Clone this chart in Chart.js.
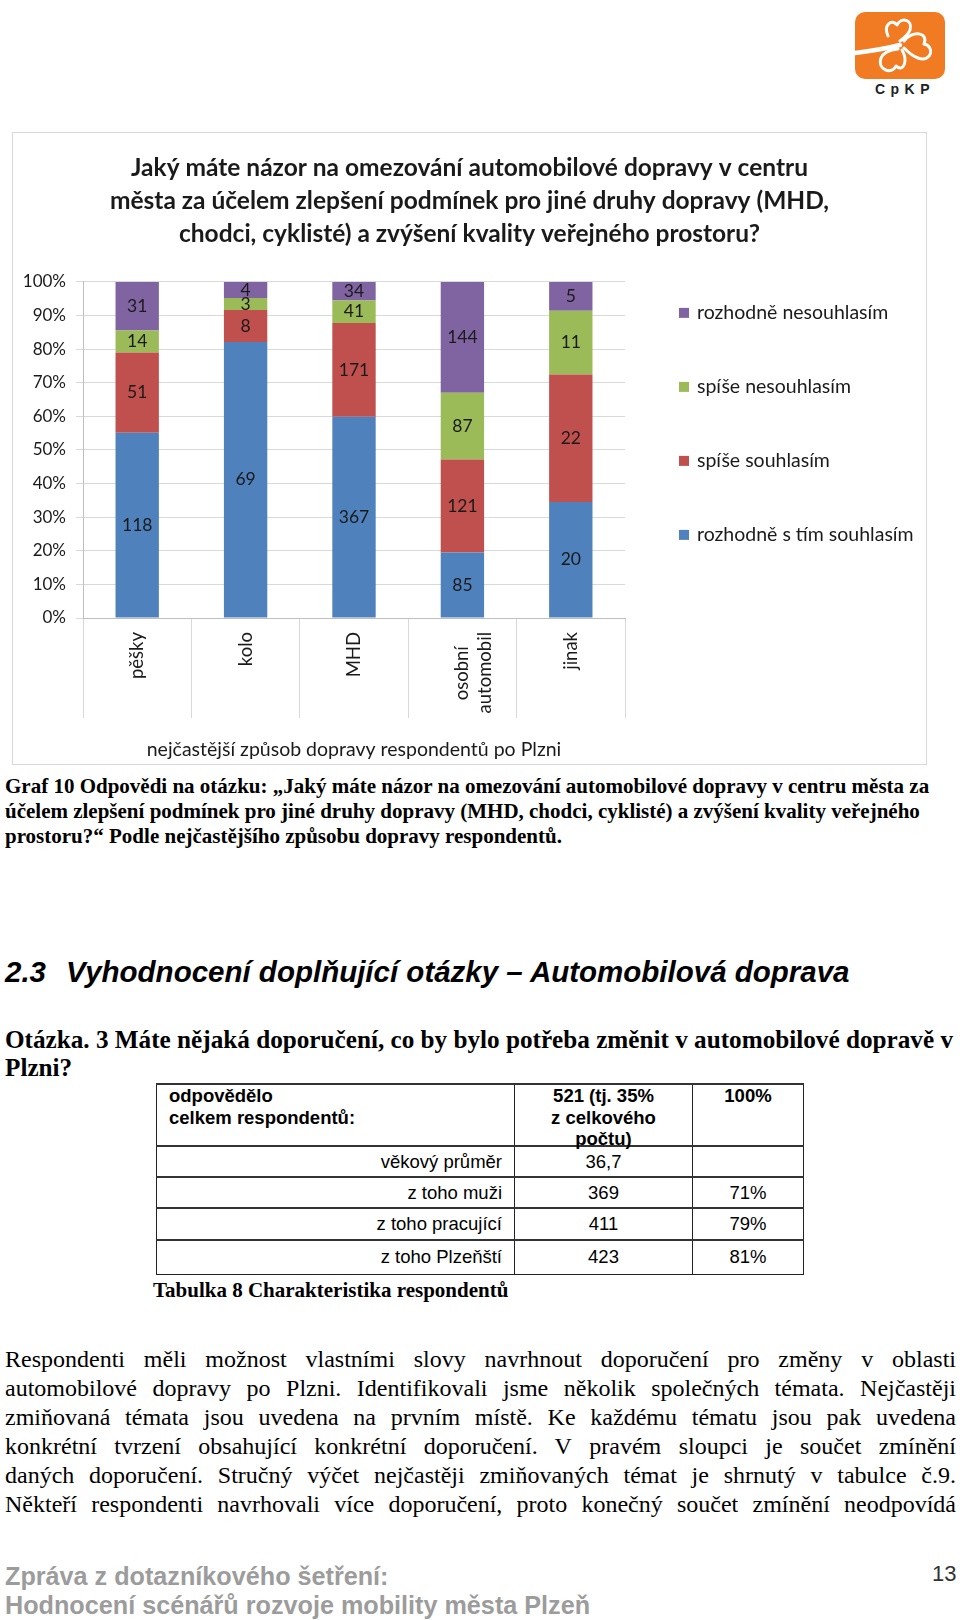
<!DOCTYPE html>
<html lang="cs">
<head>
<meta charset="utf-8">
<title>Graf 10</title>
<script src="https://cdn.jsdelivr.net/npm/chart.js@4/dist/chart.umd.min.js"></script>
<style>
html, body { margin: 0; padding: 0; background: #fff; }
body { width: 960px; height: 1620px; position: relative; overflow: hidden; }
.abs { position: absolute; white-space: nowrap; }
.serif { font-family: "Liberation Serif", "Times New Roman", serif; color: #000; }
.sans { font-family: "Liberation Sans", Arial, sans-serif; color: #000; }
#chartBox { position: absolute; left: 12px; top: 132px; width: 915px; height: 633px; border: 1px solid #d9d9d9; box-sizing: border-box; }
#caption { left: 5px; top: 774px; font-size: 21px; font-weight: bold; line-height: 25px; }
#heading { left: 5px; top: 954px; font-size: 29.5px; font-weight: bold; font-style: italic; line-height: 36px; }
#heading span.t { position: absolute; left: 61px; }
#question { left: 5px; top: 1026px; font-size: 25.2px; font-weight: bold; line-height: 28px; }
#tbl { position: absolute; left: 156px; top: 1083px; border-collapse: collapse; table-layout: fixed; width: 647px; font-size: 18.5px; }
#tbl td { border: 1px solid #222; border-top: 2px solid #333; padding: 0 12px; line-height: 22px; }
#tbl tr.hdr td { vertical-align: top; font-weight: bold; }
#tbl tr.hdr td div { height: 60px; line-height: 21.7px; overflow: visible; }
#tbl td.l { text-align: left; }
#tbl td.r { text-align: right; }
#tbl td.c { text-align: center; }
#tblCap { left: 153px; top: 1279px; font-size: 21px; font-weight: bold; line-height: 22px; }
#para { left: 5px; top: 1345px; width: 951px; font-size: 24px; line-height: 29px; }
#para div { text-align: justify; text-align-last: justify; white-space: nowrap; }
#footer { left: 5px; top: 1562px; font-size: 25.2px; font-weight: bold; line-height: 29px; color: #9c9c9c; }
#pageNo { left: 932px; top: 1561px; font-size: 22px; line-height: 26px; color: #333; }
</style>
</head>
<body>

<svg class="abs" style="left:846px;top:8px" width="110" height="92" viewBox="0 0 110 92">
  <rect x="9" y="4" width="90" height="67" rx="10" fill="#F07B22"/>
  <g fill="none" stroke="#fff" stroke-linecap="round" stroke-linejoin="round">
    <path d="M9 45 C 25 43, 42 40, 54 37" stroke-width="4.5"/>
    <g stroke-width="3">
      <path d="M42 28 C 37 17, 46 10, 51 17 C 55 9, 67 11, 64 22 C 62 27, 58 30, 54 33"/>
      <path d="M58 33 C 66 22, 83 24, 78 36 C 89 38, 86 55, 72 50 C 66 48, 62 44, 58 40"/>
      <path d="M56 42 C 62 52, 58 65, 50 58 C 46 67, 31 62, 35 50 C 37 45, 44 42, 52 41"/>
    </g>
  </g>
  <text x="59" y="86" text-anchor="middle" font-family="Liberation Sans, Arial" font-weight="bold" font-size="14" letter-spacing="5.5" fill="#222">CpKP</text>
</svg>

<div id="chartBox"><canvas id="opinionChart"></canvas></div>

<div id="caption" class="abs serif">
  <div>Graf 10 Odpovědi na otázku: „Jaký máte názor na omezování automobilové dopravy v centru města za</div>
  <div>účelem zlepšení podmínek pro jiné druhy dopravy (MHD, chodci, cyklisté) a zvýšení kvality veřejného</div>
  <div>prostoru?“ Podle nejčastějšího způsobu dopravy respondentů.</div>
</div>

<div id="heading" class="abs sans"><span>2.3</span><span class="t">Vyhodnocení doplňující otázky – Automobilová doprava</span></div>

<div id="question" class="abs serif">
  <div>Otázka. 3 Máte nějaká doporučení, co by bylo potřeba změnit v automobilové dopravě v</div>
  <div>Plzni?</div>
</div>

<table id="tbl" class="sans">
  <colgroup><col style="width:358px"><col style="width:178px"><col style="width:111px"></colgroup>
  <tr class="hdr"><td class="l"><div>odpovědělo<br>celkem respondentů:</div></td><td class="c"><div>521 (tj. 35%<br>z celkového<br>počtu)</div></td><td class="c"><div>100%</div></td></tr>
  <tr style="height:31px"><td class="r">věkový průměr</td><td class="c">36,7</td><td class="c"></td></tr>
  <tr style="height:31px"><td class="r">z toho muži</td><td class="c">369</td><td class="c">71%</td></tr>
  <tr style="height:32px"><td class="r">z toho pracující</td><td class="c">411</td><td class="c">79%</td></tr>
  <tr style="height:34px"><td class="r">z toho Plzeňští</td><td class="c">423</td><td class="c">81%</td></tr>
</table>

<div id="tblCap" class="abs serif">Tabulka 8 Charakteristika respondentů</div>

<div id="para" class="abs serif">
  <div>Respondenti měli možnost vlastními slovy navrhnout doporučení pro změny v&nbsp;oblasti</div>
  <div>automobilové dopravy po Plzni. Identifikovali jsme několik společných témata. Nejčastěji</div>
  <div>zmiňovaná témata jsou uvedena na prvním místě. Ke každému tématu jsou pak uvedena</div>
  <div>konkrétní tvrzení obsahující konkrétní doporučení. V&nbsp;pravém sloupci je součet zmínění</div>
  <div>daných doporučení. Stručný výčet nejčastěji zmiňovaných témat je shrnutý v&nbsp;tabulce č.9.</div>
  <div>Někteří respondenti navrhovali více doporučení, proto konečný součet zmínění neodpovídá</div>
</div>

<div id="footer" class="abs sans">
  <div>Zpráva z dotazníkového šetření:</div>
  <div>Hodnocení scénářů rozvoje mobility města Plzeň</div>
</div>
<div id="pageNo" class="abs sans">13</div>

<script>
// data (counts shown inside the segments)
const categories = ['pěšky', 'kolo', 'MHD', ['osobní', 'automobil'], 'jinak'];
const seriesNames = ['rozhodně s tím souhlasím', 'spíše souhlasím', 'spíše nesouhlasím', 'rozhodně nesouhlasím'];
const seriesColors = ['#4F81BD', '#C0504D', '#9BBB59', '#8064A2'];
const stronglyAgree = [118, 69, 367, 85, 20];
const ratherAgree = [51, 8, 171, 121, 22];
const ratherDisagree = [14, 3, 41, 87, 11];
const stronglyDisagree = [31, 4, 34, 144, 5];
const chartTitle = [
    'Jaký máte názor na omezování automobilové dopravy v centru',
    'města za účelem zlepšení podmínek pro jiné druhy dopravy (MHD,',
    'chodci, cyklisté) a zvýšení kvality veřejného prostoru?'
];
const xTitle = 'nejčastější způsob dopravy respondentů po Plzni';

document.addEventListener('DOMContentLoaded', function() {
    const ctx = document.getElementById('opinionChart').getContext('2d');
    const textColor = '#1a1a1a';
    const tickFont = '18.5px Lato';

    const series = [stronglyAgree, ratherAgree, ratherDisagree, stronglyDisagree];
    const totals = categories.map((c, j) => series.reduce((s, arr) => s + arr[j], 0));

    const datasets = series.map((arr, i) => ({
        label: seriesNames[i],
        counts: arr,
        data: arr.map((v, j) => v / totals[j] * 100),
        backgroundColor: seriesColors[i],
        borderWidth: 0,
        barPercentage: 0.4,
        categoryPercentage: 1.0
    }));

    // rotated labels are end-aligned by Chart.js; pad shorter lines so lines look centred
    const measure = document.createElement('canvas').getContext('2d');
    measure.font = tickFont;
    const spaceW = measure.measureText(' ').width;
    function centredLines(label) {
        if (!Array.isArray(label)) return label;
        const widths = label.map(l => measure.measureText(l).width);
        const maxW = Math.max(...widths);
        return label.map((l, k) => l + ' '.repeat(Math.round((maxW - widths[k]) / 2 / spaceW)));
    }

    // count labels in the middle of each segment
    const barLabels = {
        id: 'barLabels',
        afterDatasetsDraw(chart) {
            const c = chart.ctx;
            c.save();
            c.font = '17.5px Lato';
            c.fillStyle = textColor;
            c.textAlign = 'center';
            c.textBaseline = 'middle';
            chart.data.datasets.forEach((ds, i) => {
                chart.getDatasetMeta(i).data.forEach((bar, j) => {
                    const p = bar.getCenterPoint();
                    c.fillText(ds.counts[j], p.x, p.y);
                });
            });
            c.restore();
        }
    };

    // legend on the right, top series first
    const sideLegend = {
        id: 'sideLegend',
        afterDraw(chart) {
            const c = chart.ctx;
            const n = chart.data.datasets.length;
            const x = chart.chartArea.right + 54;
            c.save();
            c.font = '19.5px Lato';
            c.textBaseline = 'middle';
            chart.data.datasets.forEach((ds, i) => {
                const y = chart.chartArea.top + 31 + (n - 1 - i) * 74;
                c.fillStyle = ds.backgroundColor;
                c.fillRect(x, y - 5, 10, 10);
                c.fillStyle = textColor;
                c.fillText(ds.label, x + 18, y);
            });
            c.restore();
        }
    };

    const config = {
        type: 'bar',
        data: { labels: categories, datasets: datasets },
        options: {
            responsive: true,
            maintainAspectRatio: false,
            animation: false,
            layout: { padding: 0 },
            plugins: {
                legend: { display: false },
                tooltip: { enabled: false },
                title: {
                    display: true,
                    text: chartTitle,
                    color: textColor,
                    font: { family: 'Lato', size: 24.5, weight: 'bold', lineHeight: 1.363 },
                    padding: { top: 18, bottom: 30.7 }
                }
            },
            scales: {
                x: {
                    stacked: true,
                    grid: { offset: true, drawOnChartArea: false, tickLength: 100, color: '#d9d9d9' },
                    border: { color: '#bfbfbf' },
                    ticks: {
                        minRotation: 90, maxRotation: 90, padding: -86,
                        color: textColor, font: { family: 'Lato', size: 18.5 },
                        callback: (v, i) => centredLines(categories[i])
                    },
                    title: {
                        display: true, text: xTitle, color: textColor,
                        font: { family: 'Lato', size: 19.5 }, padding: { top: 0, bottom: 2.3 }
                    },
                    afterFit(s) { s.height = 146; }
                },
                y: {
                    stacked: true,
                    min: 0, max: 100,
                    grid: { color: '#d9d9d9', tickLength: 7 },
                    border: { color: '#bfbfbf' },
                    ticks: {
                        stepSize: 10, padding: 10, color: textColor,
                        font: { family: 'Lato', size: 17 },
                        callback: v => v + '%'
                    },
                    afterFit(s) { s.width = 70; }
                },
                y2: {
                    type: 'linear',
                    position: 'right',
                    grid: { display: false },
                    border: { display: false },
                    ticks: { display: false },
                    afterFit(s) { s.width = 301; }
                }
            }
        },
        plugins: [barLabels, sideLegend]
    };

    new Chart(ctx, config);
});
</script>
</body>
</html>
